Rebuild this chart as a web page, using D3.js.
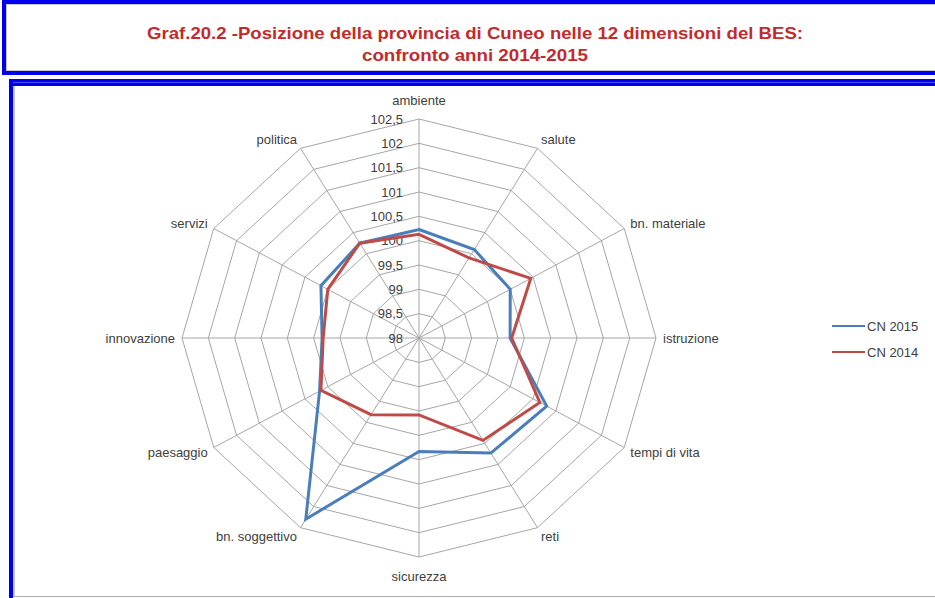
<!DOCTYPE html>
<html>
<head>
<meta charset="utf-8">
<script src="https://cdn.jsdelivr.net/npm/d3@7"></script>
<style>
  body { margin: 0; background: #fff; }
  svg { display: block; font-family: "Liberation Sans", Arial, sans-serif; }
</style>
</head>
<body>
<svg id="chart" width="935" height="598"></svg>
<script>
// dimensions of the BES, clockwise from the top
const dimensions = ["ambiente", "salute", "bn. materiale", "istruzione", "tempi di vita", "reti",
    "sicurezza", "bn. soggettivo", "paesaggio", "innovazione", "servizi", "politica"];
const cn2015 = [100.23, 100.1, 100.0, 99.73, 100.8, 100.73, 100.33, 102.3, 100.18, 99.84, 100.15, 100.25];
const cn2014 = [100.13, 99.9, 100.45, 99.76, 100.65, 100.43, 99.58, 99.82, 100.15, 99.82, 100.0, 100.25];
const tickValues = [98, 98.5, 99, 99.5, 100, 100.5, 101, 101.5, 102, 102.5];
const seriesNames = ["CN 2015", "CN 2014"];
const seriesColors = ["#4a7ebb", "#be4b48"];
const titleLines = ["Graf.20.2 -Posizione della provincia di Cuneo nelle 12 dimensioni del BES:",
    "confronto anni 2014-2015"];

class Radar {
    center = { x: 419, y: 338 }
    radius = { x: 237, y: 219 }

    constructor(svg) {
        this.svg = d3.select(svg);
    }

    initialize() {
        this.frame = this.svg.append("g");
        this.grid = this.svg.append("g");
        this.lines = this.svg.append("g");
        this.labels = this.svg.append("g");
        this.legend = this.svg.append("g");

        this.rScale = d3.scaleLinear().domain([98, 102.5]).range([0, 1]);
        this.aScale = d3.scaleLinear().domain([0, dimensions.length]).range([0, 2 * Math.PI]);
    }

    point(i, v) {
        const a = this.aScale(i), r = this.rScale(v);
        return [this.center.x + Math.sin(a) * r * this.radius.x,
                this.center.y - Math.cos(a) * r * this.radius.y];
    }

    drawFrame() {
        // title box
        this.frame.append("rect").attr("x", 4).attr("y", 2).attr("width", 940).attr("height", 71)
            .attr("fill", "none").attr("stroke", "#0000ee").attr("stroke-width", 4);
        this.frame.append("rect").attr("x", 6.5).attr("y", 4.5).attr("width", 940).attr("height", 66)
            .attr("fill", "none").attr("stroke", "#c8c8c8").attr("stroke-width", 1);
        this.frame.selectAll("text.title")
            .data(titleLines)
            .join("text")
            .attr("class", "title")
            .attr("x", 475)
            .attr("y", (d, i) => 39 + i * 22)
            .attr("text-anchor", "middle")
            .attr("font-size", 17)
            .attr("font-weight", "bold")
            .attr("fill", "#c42a2a")
            .attr("textLength", (d, i) => i === 0 ? 656 : 226)
            .attr("lengthAdjust", "spacingAndGlyphs")
            .text(d => d);

        // chart box: blue top and left, grey bottom
        this.frame.append("line").attr("x1", 9).attr("x2", 935).attr("y1", 82.5).attr("y2", 82.5)
            .attr("stroke", "#0000ee").attr("stroke-width", 7);
        this.frame.append("line").attr("x1", 9).attr("x2", 935).attr("y1", 82.5).attr("y2", 82.5)
            .attr("stroke", "#5050ff").attr("stroke-width", 1);
        this.frame.append("line").attr("x1", 11).attr("x2", 11).attr("y1", 79).attr("y2", 598)
            .attr("stroke", "#0000ee").attr("stroke-width", 4);
        this.frame.append("line").attr("x1", 14).attr("x2", 14).attr("y1", 86).attr("y2", 596)
            .attr("stroke", "#c8c8c8").attr("stroke-width", 2);
        this.frame.append("line").attr("x1", 13).attr("x2", 935).attr("y1", 596.5).attr("y2", 596.5)
            .attr("stroke", "#b0b0b0").attr("stroke-width", 1);
    }

    update() {
        const n = dimensions.length;
        const idx = d3.range(n);

        // rings
        this.grid.selectAll("polygon")
            .data(tickValues.slice(1))
            .join("polygon")
            .attr("points", v => idx.map(i => this.point(i, v).join(",")).join(" "))
            .attr("fill", "none")
            .attr("stroke", "#a6a6a6")
            .attr("stroke-width", 1);

        // spokes
        this.grid.selectAll("line")
            .data(idx)
            .join("line")
            .attr("x1", this.center.x).attr("y1", this.center.y)
            .attr("x2", i => this.point(i, 102.5)[0])
            .attr("y2", i => this.point(i, 102.5)[1])
            .attr("stroke", "#a6a6a6")
            .attr("stroke-width", 1);

        // tick labels along the top spoke
        const fmt = v => d3.format("")(v).replace(".", ",");
        this.grid.selectAll("text")
            .data(tickValues)
            .join("text")
            .attr("x", this.center.x - 16)
            .attr("y", v => this.point(0, v)[1])
            .attr("dy", "0.35em")
            .attr("text-anchor", "end")
            .attr("font-size", 13)
            .attr("fill", "#404040")
            .text(fmt);

        // series lines
        const series = [cn2015, cn2014];
        const line = d3.line().curve(d3.curveLinearClosed);
        this.lines.selectAll("path")
            .data(series)
            .join("path")
            .attr("d", s => line(s.map((v, i) => this.point(i, v))))
            .attr("fill", "none")
            .attr("stroke", (d, i) => seriesColors[i])
            .attr("stroke-width", 3)
            .attr("stroke-linejoin", "miter");

        // dimension labels
        this.labels.selectAll("text")
            .data(dimensions)
            .join("text")
            .attr("x", (d, i) => this.point(i, 102.5)[0] + Math.sin(this.aScale(i)) * 7)
            .attr("y", (d, i) => {
                const c = Math.cos(this.aScale(i));
                return this.point(i, 102.5)[1] - c * (Math.abs(c) > 0.99 ? 19 : 10);
            })
            .attr("dy", "0.35em")
            .attr("text-anchor", (d, i) => {
                const s = Math.sin(this.aScale(i));
                return s > 0.01 ? "start" : s < -0.01 ? "end" : "middle";
            })
            .attr("font-size", 13)
            .attr("fill", "#404040")
            .text(d => d);

        // legend
        const item = this.legend.selectAll("g")
            .data(seriesNames)
            .join("g")
            .attr("transform", (d, i) => `translate(832, ${326 + i * 26})`);
        item.append("line")
            .attr("x1", 0).attr("x2", 33)
            .attr("stroke", (d, i) => seriesColors[i])
            .attr("stroke-width", 2);
        item.append("text")
            .attr("x", 35)
            .attr("dy", "0.35em")
            .attr("font-size", 13)
            .attr("fill", "#404040")
            .text(d => d);
    }
}

const chart = new Radar("#chart");
chart.initialize();
chart.drawFrame();
chart.update();
</script>
</body>
</html>
